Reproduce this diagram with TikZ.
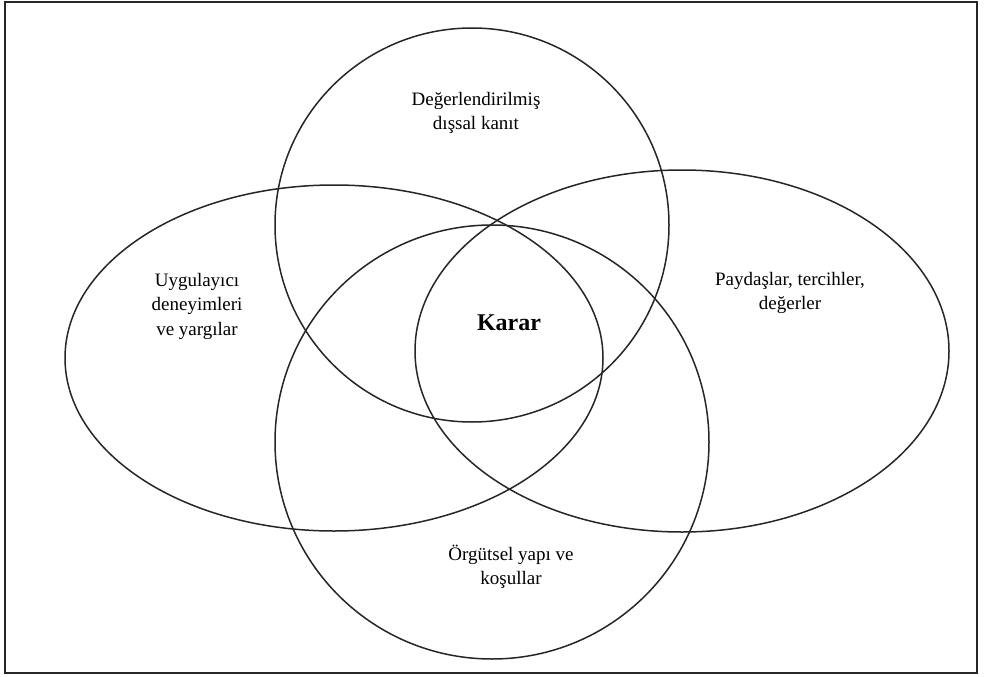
\documentclass[tikz,border=0pt]{standalone}
\usepackage{fontspec}
\setmainfont{Liberation Serif}
\begin{document}
\begin{tikzpicture}[x=1pt,y=-1pt,
  ring/.style={draw=black!85,line width=1.5pt},
  lbl/.style={align=center,font=\fontsize{19}{24.5}\selectfont,inner sep=0pt},
  ctr/.style={font=\fontsize{24}{28}\selectfont\bfseries,inner sep=0pt}]
\useasboundingbox (0,0) rectangle (985,677);
\fill[white] (0,0) rectangle (985,677);
\draw[black!85,line width=2.5pt] (5,2) rectangle (977,673);
% sets
\draw[ring] (472,225) circle [radius=197];
\draw[ring] (492,442) circle [radius=217];
\draw[ring] (334,358) ellipse [x radius=269, y radius=173];
\draw[ring] (682,351) ellipse [x radius=267, y radius=181];
% labels
\node[lbl] (kanit) at (476,113) {Değerlendirilmiş\\dışsal kanıt};
\node[lbl] (uyg) at (197,306) {Uygulayıcı\\deneyimleri\\ve yargılar};
\node[lbl] (pay) at (790,293) {Paydaşlar, tercihler,\\değerler};
\node[lbl] (org) at (511,567) {Örgütsel yapı ve\\koşullar};
\node[ctr] (karar) at (509,323) {Karar};
\end{tikzpicture}
\end{document}
